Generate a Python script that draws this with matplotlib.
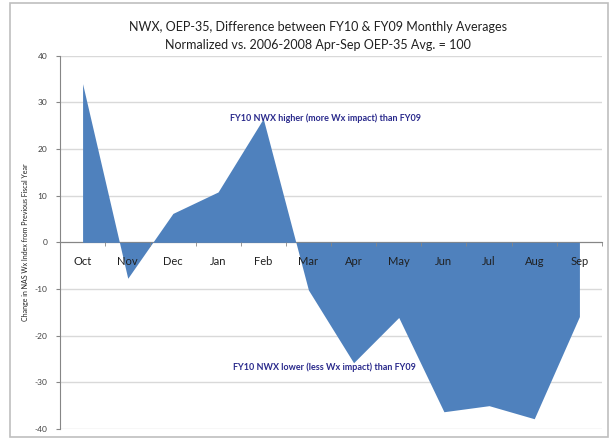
import numpy as np
import matplotlib.pyplot as plt
from matplotlib.patches import Rectangle

months = ["Oct", "Nov", "Dec", "Jan", "Feb", "Mar", "Apr", "May", "Jun", "Jul", "Aug", "Sep"]
diff = [34.0, -7.7, 6.2, 10.8, 26.5, -10.2, -25.8, -16.1, -36.3, -35.0, -37.8, -15.9]
yticks = [-40, -30, -20, -10, 0, 10, 20, 30, 40]

plt.rcParams['font.family'] = ['Lato', 'DejaVu Sans']

fig = plt.figure(figsize=(6.11, 4.4), dpi=100)
ax = fig.add_axes([60/611, 1-429/440, 542/611, (429-55.7)/440])

x = np.arange(len(months))
ax.fill_between(x, diff, 0, color="#4F81BD", linewidth=0, zorder=2)

ax.set_xlim(-0.5, len(months) - 0.5)
ax.set_ylim(-40, 40)
ax.set_yticks(yticks)
ax.set_yticklabels([str(t) for t in yticks], fontsize=6, color="#404040")
ax.yaxis.grid(True, color="#D9D9D9", linewidth=1)
ax.set_axisbelow(True)
# month labels sit on top of the area, like in Excel
ax.xaxis.set_zorder(3)

ax.spines['top'].set_visible(False)
ax.spines['right'].set_visible(False)
ax.spines['left'].set_color("#868686")
ax.spines['bottom'].set_position(('data', 0))
ax.spines['bottom'].set_color("#868686")
ax.spines['bottom'].set_zorder(1)

ax.set_xticks(x)
ax.set_xticklabels(months, fontsize=8, color="#202020")
ax.tick_params(axis='x', length=0, pad=10)
ax.set_xticks(np.arange(-0.5, len(months)), minor=True)
ax.tick_params(axis='x', which='minor', length=3, color="#868686", direction='out')
ax.tick_params(axis='y', length=3, color="#868686", pad=6)

ax.set_ylabel("Change in NAS Wx Index from Previous Fiscal Year", fontsize=5,
              color="#202020", labelpad=4)

ax.text(3.26, 26.6, "FY10 NWX higher (more Wx impact) than FY09", fontsize=6.5,
        fontweight='bold', color="#2A2A8C", va='center', ha='left', zorder=3)
ax.text(3.33, -26.7, "FY10 NWX lower (less Wx impact) than FY09", fontsize=6.5,
        fontweight='bold', color="#2A2A8C", va='center', ha='left', zorder=3)

fig.text(0.52, 1-27/440, "NWX, OEP-35, Difference between FY10 & FY09 Monthly Averages",
         ha='center', va='center', fontsize=9, color="#202020")
fig.text(0.52, 1-45/440, "Normalized vs. 2006-2008 Apr-Sep OEP-35 Avg. = 100",
         ha='center', va='center', fontsize=9, color="#202020")

fig.patches.append(Rectangle((10/611, 3/440), 598/611, 434/440, transform=fig.transFigure,
                             fill=False, edgecolor="#BFBFBF", linewidth=1.2))

fig.savefig("out.png", dpi=100)
